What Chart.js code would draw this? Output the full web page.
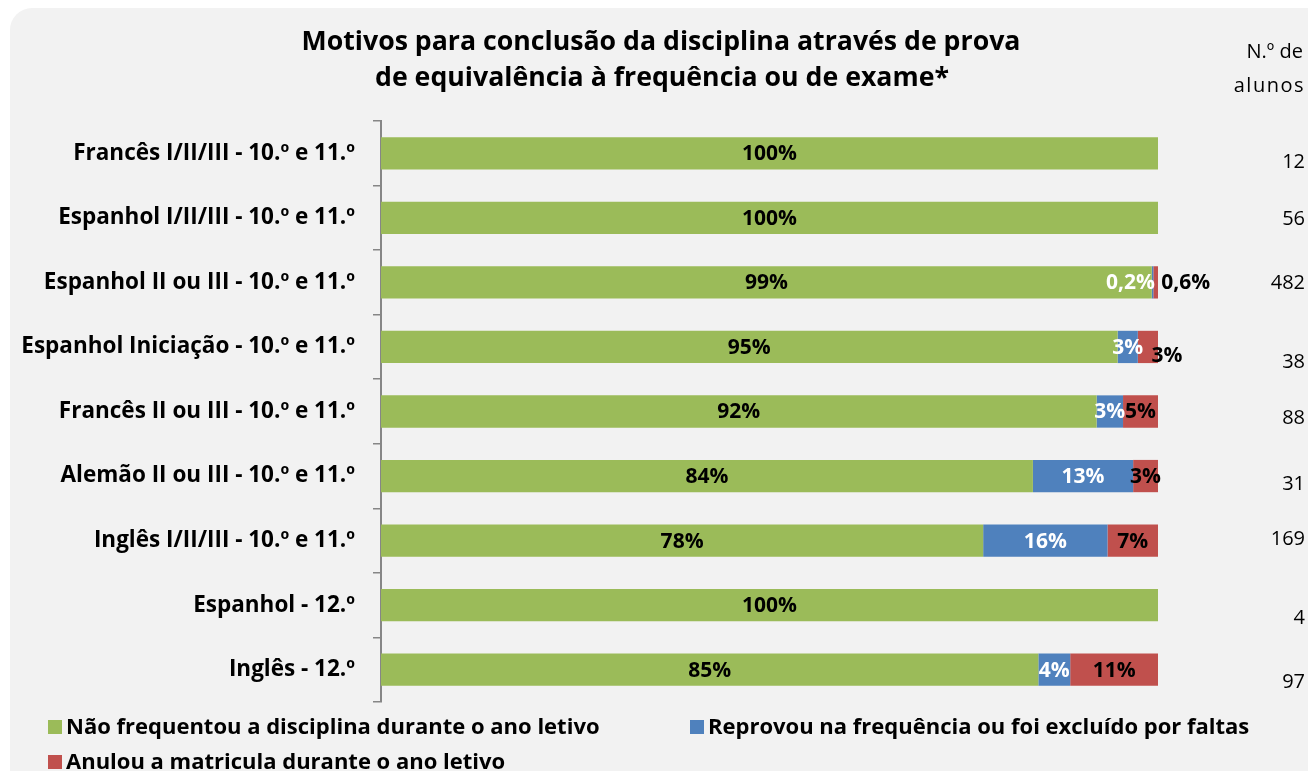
<!DOCTYPE html>
<html lang="pt">
<head>
<meta charset="utf-8">
<title>Motivos para conclusão da disciplina</title>
<script src="https://cdn.jsdelivr.net/npm/chart.js@4.4.1/dist/chart.umd.min.js"></script>
<style>
  html, body { margin: 0; padding: 0; background: #fff; overflow: hidden; }
  .panel {
    position: absolute; left: 10px; top: 8px;
    width: 1330px; height: 800px;
    background: #f2f2f2; border-radius: 22px;
  }
  #wrap { position: absolute; left: 0; top: 0; width: 1308px; height: 771px; }
</style>
</head>
<body>
<div class="panel"></div>
<div id="wrap"><canvas id="motivosChart" width="1308" height="771"></canvas></div>
<script>
// ======== Data ========
const disciplinas = [
  "Francês I/II/III - 10.º e 11.º",
  "Espanhol I/II/III - 10.º e 11.º",
  "Espanhol II ou III - 10.º e 11.º",
  "Espanhol Iniciação - 10.º e 11.º",
  "Francês II ou III - 10.º e 11.º",
  "Alemão II ou III - 10.º e 11.º",
  "Inglês I/II/III - 10.º e 11.º",
  "Espanhol - 12.º",
  "Inglês - 12.º",
];
// percentagens por motivo
const naoFrequentou = [100, 100, 99.2, 94.8, 92.1, 83.9, 77.5, 100, 84.6];
const reprovou = [0, 0, 0.2, 2.6, 3.4, 12.9, 16.0, 0, 4.1];
const anulou = [0, 0, 0.6, 2.6, 4.5, 3.2, 6.5, 0, 11.3];
const numAlunos = [12, 56, 482, 38, 88, 31, 169, 4, 97];
const motivos = [
  "Não frequentou a disciplina durante o ano letivo",
  "Reprovou na frequência ou foi excluído por faltas",
  "Anulou a matricula durante o ano letivo",
];
const titulo = [
  "Motivos para conclusão da disciplina através de prova",
  "de equivalência à frequência ou de exame*",
];

const FONT = "'Open Sans', sans-serif";
const cores = ["#9bbb59", "#4f81bd", "#c0504d"];
const coresTexto = ["#000", "#fff", "#000"];

// small labels that don't fit inside their segment get moved
const labelNudge = {
  "1:2": { dx: -22, dy: 0 },
  "2:2": { dx: 30, dy: 0 },
  "2:3": { dx: 19, dy: 8 },
};
// text boxes of the student counts sit a bit off the row centre
const alunosNudge = [9, 1, 1, 15, 7, 8, -1, 13, 13];

function formatPct(v) {
  if (v < 1) return v.toFixed(1).replace(".", ",") + "%";
  return Math.round(v) + "%";
}

// ======== Title, counts column and legend ========
const extrasPlugin = {
  id: "extras",
  afterDraw(chart) {
    const ctx = chart.ctx;
    const yScale = chart.scales.y;
    ctx.save();

    // title
    ctx.fillStyle = "#000";
    ctx.textAlign = "center";
    ctx.textBaseline = "middle";
    ctx.font = `bold 26.7px ${FONT}`;
    ctx.fillText(titulo[0], 661, 42);
    ctx.fillText(titulo[1], 662, 78);

    // header of counts column
    ctx.textAlign = "right";
    ctx.font = `20px ${FONT}`;
    ctx.fillText("N.º de", 1303, 52);
    ctx.letterSpacing = "1.5px";
    ctx.fillText("alunos", 1305, 86);
    ctx.letterSpacing = "0px";

    // counts
    ctx.font = `20px ${FONT}`;
    numAlunos.forEach((n, i) => {
      const y = yScale.getPixelForValue(i) + alunosNudge[i];
      ctx.fillText(String(n), 1305, y);
    });

    // legend
    const items = [
      { x: 48, y: 727 },
      { x: 690, y: 727 },
      { x: 48, y: 762 },
    ];
    ctx.textAlign = "left";
    ctx.font = `bold 22px ${FONT}`;
    motivos.forEach((m, i) => {
      const it = items[i];
      ctx.fillStyle = cores[i];
      ctx.fillRect(it.x, it.y - 7, 14, 14);
      ctx.fillStyle = "#000";
      ctx.fillText(m, it.x + 18, it.y + 1);
    });
    ctx.restore();
  },
};

// ======== Value labels on the bars ========
const valueLabels = {
  id: "valueLabels",
  afterDatasetsDraw(chart) {
    const ctx = chart.ctx;
    ctx.save();
    ctx.font = `bold 21px ${FONT}`;
    ctx.textAlign = "center";
    ctx.textBaseline = "middle";
    chart.data.datasets.forEach((ds, d) => {
      const meta = chart.getDatasetMeta(d);
      meta.data.forEach((bar, i) => {
        const v = ds.data[i];
        if (!v) return;
        const nudge = labelNudge[`${d}:${i}`] || { dx: 0, dy: 0 };
        const x = (bar.base + bar.x) / 2 + nudge.dx;
        ctx.fillStyle = coresTexto[d];
        ctx.fillText(formatPct(v), x, bar.y + 1 + nudge.dy);
      });
    });
    ctx.restore();
  },
};

// ======== Chart ========
function initMotivosChart() {
  const canvas = document.getElementById("motivosChart");
  const series = [naoFrequentou, reprovou, anulou];

  new Chart(canvas.getContext("2d"), {
    type: "bar",
    data: {
      labels: disciplinas,
      datasets: series.map((data, i) => ({
        label: motivos[i],
        data,
        backgroundColor: cores[i],
        barPercentage: 0.5,
        categoryPercentage: 1,
      })),
    },
    options: {
      indexAxis: "y",
      responsive: false,
      animation: false,
      layout: { padding: { top: 121, right: 150, bottom: 69, left: 0 } },
      plugins: {
        legend: { display: false },
        title: { display: false },
        tooltip: { enabled: false },
      },
      scales: {
        x: { stacked: true, min: 0, max: 100, display: false },
        y: {
          stacked: true,
          grid: {
            offset: true,
            drawOnChartArea: false,
            drawTicks: true,
            tickLength: 8,
            color: "#868686",
            lineWidth: 1.5,
          },
          border: { display: true, color: "#868686", width: 2 },
          ticks: {
            color: "#000",
            padding: 18,
            font: { family: FONT, size: 22.5, weight: "bold" },
          },
          afterFit(scale) {
            scale.width = 381;
          },
        },
      },
    },
    plugins: [valueLabels, extrasPlugin],
  });
}

document.addEventListener("DOMContentLoaded", initMotivosChart);
</script>
</body>
</html>
